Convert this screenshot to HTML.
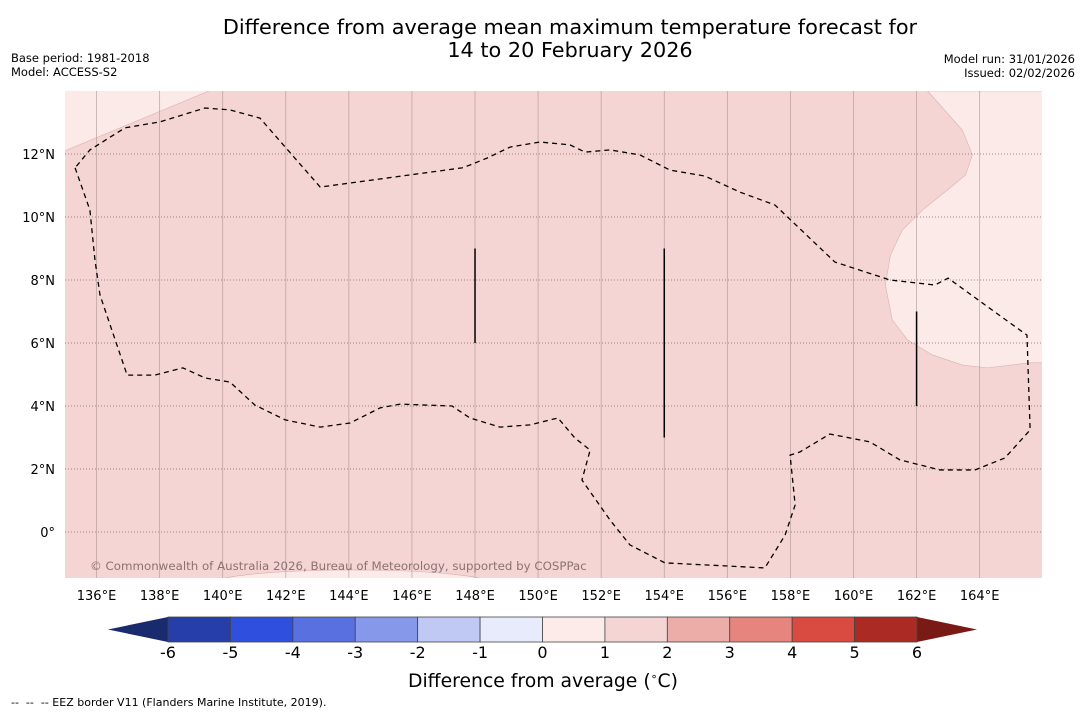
<!DOCTYPE html>
<html><head><meta charset="utf-8"><style>
body{margin:0;background:#fff;font-family:"DejaVu Sans","Liberation Sans",sans-serif;}
svg text{font-family:"DejaVu Sans","Liberation Sans",sans-serif;}
</style></head><body>
<svg id="chart" width="1085" height="713" xmlns="http://www.w3.org/2000/svg">
<text x="570" y="34" font-size="20.8" text-anchor="middle">Difference from average mean maximum temperature forecast for</text>
<text x="570" y="57" font-size="20.8" text-anchor="middle">14 to 20 February 2026</text>
<text x="11" y="62" font-size="11.5">Base period: 1981-2018</text>
<text x="11" y="76" font-size="11.5">Model: ACCESS-S2</text>
<text x="1075" y="63" font-size="11.5" text-anchor="end">Model run: 31/01/2026</text>
<text x="1075" y="77" font-size="11.5" text-anchor="end">Issued: 02/02/2026</text>
<defs><clipPath id="mapclip"><rect x="65" y="91" width="977" height="487"/></clipPath></defs>
<g id="map" clip-path="url(#mapclip)"></g>
<g id="axes"></g>
<g id="cbar"></g>
<text x="543" y="687" font-size="18.8" text-anchor="middle">Difference from average (<tspan font-size="11" dy="-7">∘</tspan><tspan dy="7">C)</tspan></text>
<text x="11" y="706" font-size="11" xml:space="preserve">--  --  -- EEZ border V11 (Flanders Marine Institute, 2019).</text>
</svg>
<script>
const lonTicks=[136,138,140,142,144,146,148,150,152,154,156,158,160,162,164];
const latTicks=[0,2,4,6,8,10,12];
const cbLevels=[-6,-5,-4,-3,-2,-1,0,1,2,3,4,5,6];
const cbColors=["#263ea9","#2f50df","#5870e0","#8698ea","#c0c8f4","#e8ebfb","#fcebe9","#f5d5d3","#ecaca7","#e5857d","#d94a40","#ac2a24"];
const eezLon=[135.32,135.79,135.95,136.11,136.97,137.85,138.74,139.44,140.23,141.02,141.98,143.09,144.04,144.99,145.62,147.27,147.84,148.79,149.74,150.63,151.17,151.65,151.39,152.28,152.91,154.02,157.19,157.83,158.15,157.99,158.30,159.25,160.52,161.47,162.74,163.85,164.80,165.60,165.50,164.17,163.00,162.58,161.16,159.41,157.51,156.40,155.29,154.18,153.23,152.28,151.49,151.01,150.06,149.11,148.38,147.84,147.59,143.09,141.18,140.23,139.44,138.01,136.90,135.79,135.32];
const eezLat=[11.56,10.22,8.63,7.52,4.98,4.98,5.21,4.89,4.76,4.03,3.56,3.33,3.46,3.94,4.06,4.00,3.62,3.33,3.40,3.62,2.98,2.60,1.65,0.38,-0.41,-0.98,-1.14,-0.10,0.86,2.44,2.54,3.11,2.86,2.29,1.97,1.97,2.35,3.24,6.25,7.21,8.06,7.84,8.00,8.57,10.38,10.79,11.30,11.49,11.97,12.13,12.06,12.29,12.38,12.22,11.87,11.65,11.56,10.95,13.14,13.40,13.46,13.02,12.83,12.13,11.56];
const lightLon=[162.35,163.45,163.77,163.55,162.98,162.19,161.55,161.17,161.01,161.23,161.71,162.50,163.45,164.24,165.58,166.1,166.1,162.35];
const lightLat=[14,12.76,11.97,11.33,10.86,10.22,9.59,8.79,7.84,6.73,6.10,5.62,5.30,5.21,5.37,5.37,14,14];
const cornerLon=[134.9,139.8,134.9];
const cornerLat=[14.1,14.1,12.06];
const segLon=[[148,148],[154,154],[162,162]];
const segLat=[[9,6],[9,3],[7,4]];
const X=lon=>65+(lon-135)*31.54, Y=lat=>91+(14-lat)*31.5;
const NS="http://www.w3.org/2000/svg";
function mk(p,t,a){const e=document.createElementNS(NS,t);for(const k in a)e.setAttribute(k,a[k]);p.appendChild(e);return e;}
const map=document.getElementById('map'),axes=document.getElementById('axes'),cb=document.getElementById('cbar');
let r=mk(map,'rect',{x:65,y:91,width:977,height:487,fill:'#f5d5d3'});


let p=mk(map,'polygon',{points:lightLon.map((l,i)=>X(l)+','+Y(lightLat[i])).join(' '),fill:'#fbeae8',stroke:'#d8b0ae','stroke-width':0.6});


p=mk(map,'polygon',{points:cornerLon.map((l,i)=>X(l)+','+Y(cornerLat[i])).join(' '),fill:'#fbeae8',stroke:'#d8b0ae','stroke-width':0.6});


p=mk(map,'ellipse',{cx:X(144.1),cy:Y(-1.65),rx:140,ry:14,fill:'#fbeae8',stroke:'#d8b0ae','stroke-width':0.6});


lonTicks.forEach(l=>{const g=mk(map,'line',{x1:X(l),x2:X(l),y1:91,y2:578,stroke:'#a89090','stroke-width':0.8,opacity:0.7});


const t=mk(axes,'text',{x:X(l),y:600,'font-size':13,'text-anchor':'middle'});t.textContent=l+'°E';

});
latTicks.forEach(l=>{const g=mk(map,'line',{x1:65,x2:1042,y1:Y(l),y2:Y(l),stroke:'#806868','stroke-width':0.8,'stroke-dasharray':'1 2'});


const t=mk(axes,'text',{x:55,y:Y(l)+5,'font-size':13,'text-anchor':'end'});t.textContent=l===0?'0°':l+'°N';

});
p=mk(map,'polyline',{points:eezLon.map((l,i)=>X(l)+','+Y(eezLat[i])).join(' '),fill:'none',stroke:'#000','stroke-width':1.3,'stroke-dasharray':'5 4'});


segLon.forEach((s,i)=>{const l=mk(map,'line',{x1:X(s[0]),x2:X(s[1]),y1:Y(segLat[i][0]),y2:Y(segLat[i][1]),stroke:'#000','stroke-width':1.5});

});
let c=mk(map,'text',{x:90,y:570,'font-size':11.8,fill:'#8a7272'});c.textContent='© Commonwealth of Australia 2026, Bureau of Meteorology, supported by COSPPac';


const cx0=168,cx1=917,cy=617,ch=25,n=cbColors.length,w=(cx1-cx0)/n;
p=mk(cb,'polygon',{points:`${cx0},${cy} ${108},${cy+ch/2} ${cx0},${cy+ch}`,fill:'#1a2a6e'});


p=mk(cb,'polygon',{points:`${cx1},${cy} ${977},${cy+ch/2} ${cx1},${cy+ch}`,fill:'#7a1a15'});


cbColors.forEach((col,i)=>{const s=mk(cb,'rect',{x:cx0+i*w,y:cy,width:w,height:ch,fill:col,stroke:'#444','stroke-width':0.8});

});
cbLevels.forEach((v,i)=>{const t=mk(cb,'text',{x:cx0+i*w,y:658,'font-size':16,'text-anchor':'middle'});t.textContent=v;

});
</script>
</body></html>
